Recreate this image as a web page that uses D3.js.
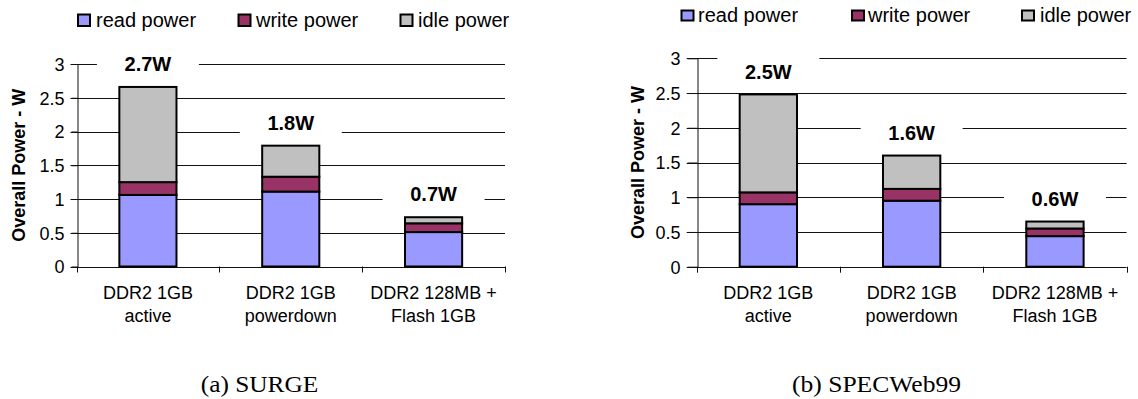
<!DOCTYPE html>
<html>
<head>
<meta charset="utf-8">
<script src="https://cdn.jsdelivr.net/npm/d3@7"></script>
<style>
  html, body { margin: 0; padding: 0; background: #fff; }
  svg { display: block; }
</style>
</head>
<body>
<svg id="chart" width="1138" height="399"></svg>
<script>
// ---------- data ----------
const categories = [["DDR2 1GB", "active"], ["DDR2 1GB", "powerdown"], ["DDR2 128MB +", "Flash 1GB"]];
const seriesNames = ["read power", "write power", "idle power"];
const seriesColors = ["#9999ff", "#993366", "#c0c0c0"];
const yTickValues = [0, 0.5, 1, 1.5, 2, 2.5, 3];
const yTickLabels = ["0", "0.5", "1", "1.5", "2", "2.5", "3"];
const yAxisTitle = "Overall Power - W";

const surgeRead = [1.06, 1.11, 0.51];
const surgeWrite = [0.19, 0.22, 0.13];
const surgeIdle = [1.41, 0.46, 0.09];
const surgeTotals = ["2.7W", "1.8W", "0.7W"];
const surgeCaption = "(a) SURGE";

const specRead = [0.90, 0.95, 0.44];
const specWrite = [0.17, 0.17, 0.11];
const specIdle = [1.41, 0.48, 0.10];
const specTotals = ["2.5W", "1.6W", "0.6W"];
const specCaption = "(b) SPECWeb99";

// ---------- layout ----------
const panels = [
  { read: surgeRead, write: surgeWrite, idle: surgeIdle, totals: surgeTotals, caption: surgeCaption,
    x0: 76.5, x1: 505, yTop: 64, yBottom: 266.5, tickLen: 6, titleX: 19,
    legSq: [77, 237.5, 399.5], legTx: [96, 256, 418], legTop: 13.5, legW: 14, legH: 13.5, legBase: 27,
    capX: 200.7, capW: 117.6 },
  { read: specRead, write: specWrite, idle: specIdle, totals: specTotals, caption: specCaption,
    x0: 696.7, x1: 1126.6, yTop: 58.3, yBottom: 266.7, tickLen: 10, titleX: 638,
    legSq: [680.5, 851, 1021], legTx: [698, 868, 1040], legTop: 9.5, legW: 14, legH: 12, legBase: 22,
    capX: 792, capW: 169 }
];

const svg = d3.select("#chart");
const sans = "'Liberation Sans', Arial, sans-serif";

panels.forEach(p => {
  const g = svg.append("g");
  const y = d3.scaleLinear().domain([0, 3]).range([p.yBottom, p.yTop]);
  const x = d3.scaleBand().domain(d3.range(categories.length)).range([p.x0, p.x1])
    .paddingInner(0.6).paddingOuter(0.3);
  const step = x.step();

  // gridlines (0.5..3)
  g.append("g").selectAll("line").data(yTickValues.filter(v => v > 0)).join("line")
    .attr("x1", p.x0 - p.tickLen).attr("x2", p.x1)
    .attr("y1", d => Math.round(y(d)) + 0.5).attr("y2", d => Math.round(y(d)) + 0.5)
    .attr("stroke", "#111").attr("stroke-width", 1);

  // y axis (labels + tick marks + domain)
  const yAxis = d3.axisLeft(y).tickValues(yTickValues)
    .tickFormat((d, i) => yTickLabels[i]).tickSize(p.tickLen).tickSizeOuter(0).tickPadding(7);
  const ya = g.append("g").attr("transform", `translate(${Math.round(p.x0) + 0.5},0)`).call(yAxis);
  ya.select(".domain").attr("stroke", "#111");
  ya.selectAll(".tick line").attr("stroke", "#111");
  ya.selectAll(".tick text").attr("font-family", sans).attr("font-size", 18).attr("fill", "#000")
    .attr("dy", "0.36em");

  // bottom axis line
  g.append("line").attr("x1", p.x0 - p.tickLen).attr("x2", p.x1)
    .attr("y1", Math.round(p.yBottom) + 0.5).attr("y2", Math.round(p.yBottom) + 0.5)
    .attr("stroke", "#111");
  // category boundary ticks
  g.append("g").selectAll("line").data(d3.range(categories.length + 1)).join("line")
    .attr("x1", i => Math.round(p.x0 + i * step) + 0.5).attr("x2", i => Math.round(p.x0 + i * step) + 0.5)
    .attr("y1", p.yBottom).attr("y2", p.yBottom + 6).attr("stroke", "#111");

  // category labels via axisBottom
  const xAxis = d3.axisBottom(x).tickSize(0).tickFormat("");
  const xa = g.append("g").attr("transform", `translate(0,${p.yBottom})`).call(xAxis);
  xa.select(".domain").remove();
  xa.selectAll(".tick").each(function (d) {
    const t = d3.select(this).append("text").attr("font-family", sans).attr("font-size", 18)
      .attr("fill", "#000").attr("text-anchor", "middle");
    categories[d].forEach((line, k) => {
      t.append("tspan").attr("x", 0).attr("y", 32 + k * 23.5).text(line);
    });
  });

  // total labels with white boxes
  const tops = p.read.map((r, i) => r + p.write[i] + p.idle[i]);
  const lg = g.append("g");
  tops.forEach((t, i) => {
    const cx = x(i) + x.bandwidth() / 2;
    const cy = y(t) - 23;
    lg.append("rect").attr("x", cx - 51).attr("y", cy - 16).attr("width", 102).attr("height", 32)
      .attr("fill", "#fff");
    lg.append("text").attr("x", cx).attr("y", cy).attr("dy", "0.36em").attr("text-anchor", "middle")
      .attr("font-family", sans).attr("font-size", 20).attr("font-weight", "bold").text(p.totals[i]);
  });

  // stacked bars
  const rows = categories.map((c, i) => ({ i, read: p.read[i], write: p.write[i], idle: p.idle[i] }));
  const stack = d3.stack().keys(["read", "write", "idle"])(rows);
  g.append("g").selectAll("g").data(stack).join("g").attr("fill", (d, k) => seriesColors[k])
    .selectAll("rect").data(d => d).join("rect")
    .attr("x", d => x(d.data.i)).attr("width", x.bandwidth())
    .attr("y", d => y(d[1])).attr("height", d => y(d[0]) - y(d[1]))
    .attr("stroke", "#000").attr("stroke-width", 2);

  // y-axis title
  g.append("text").attr("transform", `translate(${p.titleX},${(p.yTop + p.yBottom) / 2}) rotate(-90)`)
    .attr("text-anchor", "middle").attr("dy", "0.36em").attr("font-family", sans).attr("font-size", 18)
    .attr("font-weight", "bold").text(yAxisTitle);

  // legend
  seriesNames.forEach((name, k) => {
    g.append("rect").attr("x", p.legSq[k]).attr("y", p.legTop).attr("width", p.legW - 2).attr("height", p.legH - 2)
      .attr("transform", "translate(1,1)")
      .attr("fill", seriesColors[k]).attr("stroke", "#000").attr("stroke-width", 2);
    g.append("text").attr("x", p.legTx[k]).attr("y", p.legBase).attr("font-family", sans)
      .attr("font-size", 20).text(name);
  });

  // caption
  g.append("text").attr("x", p.capX).attr("y", 391.7).attr("font-family", "'Liberation Serif', 'DejaVu Serif', serif")
    .attr("font-size", 23).attr("textLength", p.capW).attr("lengthAdjust", "spacingAndGlyphs")
    .text(p.caption);
});
</script>
</body>
</html>
